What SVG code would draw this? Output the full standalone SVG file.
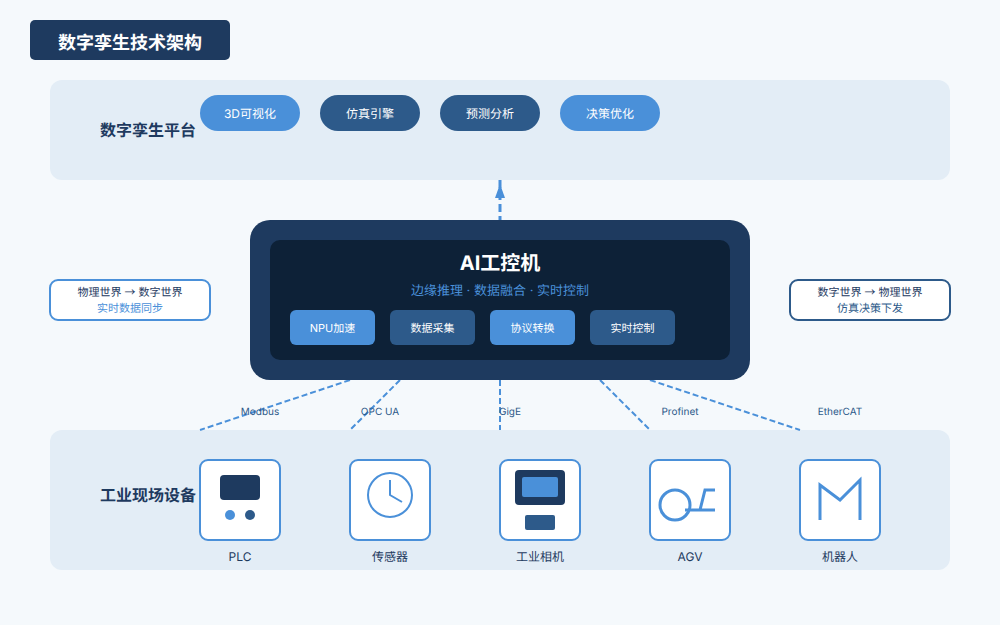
<svg xmlns="http://www.w3.org/2000/svg" width="1000" height="625" viewBox="0 0 1000 625">
<style>
text{font-family:Inter,"Noto Sans CJK SC",sans-serif;text-anchor:middle;text-rendering:geometricPrecision}
.ar{font-family:"Noto Sans CJK SC",sans-serif}
.panel{fill:#e3edf6}
.pill{font-size:12px;fill:#fff}
.chip{font-size:11px;fill:#fff}
.lt{fill:#4a90d9}.md{fill:#2d5a8a}.dk{fill:#1e3a5f}
.sec{font-size:16px;font-weight:700;fill:#1e3a5f}
.link{stroke:#4a90d9;stroke-width:2;stroke-dasharray:6 3;fill:none}
.up{stroke:#4a90d9;stroke-width:3;stroke-dasharray:8 4;fill:none}
.proto{font-size:10px;fill:#2d5a8a}
.dev{fill:#fff;stroke:#4a90d9;stroke-width:2}
.ico{fill:none;stroke:#4a90d9;stroke-width:2}
.ico3{fill:none;stroke:#4a90d9;stroke-width:3}
.name{font-size:12px;fill:#1e3a5f}
.note{fill:#fff;stroke-width:2}
.n1{font-size:11px;fill:#1e3a5f}
</style>
<rect width="1000" height="625" fill="#f5f9fc"/>
<g id="title"><rect x="30" y="20" width="200" height="40" rx="5" class="dk"/><text x="130" y="48.500" font-size="18" font-weight="700" fill="#fff">数字孪生技术架构</text></g>
<g id="platform"><rect x="50" y="80" width="900" height="100" rx="12" class="panel"/><text x="148" y="135.500" class="sec">数字孪生平台</text></g>
<g id="p1"><rect x="200" y="95" width="100" height="36" rx="18" class="lt"/><text x="250" y="118" class="pill">3D可视化</text></g>
<g id="p2"><rect x="320" y="95" width="100" height="36" rx="18" class="md"/><text x="370" y="118" class="pill">仿真引擎</text></g>
<g id="p3"><rect x="440" y="95" width="100" height="36" rx="18" class="md"/><text x="490" y="118" class="pill">预测分析</text></g>
<g id="p4"><rect x="560" y="95" width="100" height="36" rx="18" class="lt"/><text x="610" y="118" class="pill">决策优化</text></g>
<g id="field"><rect x="50" y="430" width="900" height="140" rx="12" class="panel"/><text x="148" y="500.500" class="sec">工业现场设备</text></g>
<g id="connectors">
<path class="up" d="M500 180V220"/>
<path d="M500 184L505 198H495Z" class="lt"/>
<path class="link" d="M350 380L200 430"/>
<path class="link" d="M400 380L350 430"/>
<path class="link" d="M500 380V430"/>
<path class="link" d="M600 380L650 430"/>
<path class="link" d="M650 380L800 430"/>
<text x="260" y="415" class="proto">Modbus</text>
<text x="380" y="415" class="proto">OPC UA</text>
<text x="510" y="415" class="proto">GigE</text>
<text x="680" y="415" class="proto">Profinet</text>
<text x="840" y="415" class="proto">EtherCAT</text>
</g>
<g id="ipc">
<rect x="250" y="220" width="500" height="160" rx="20" class="dk"/>
<rect x="270" y="240" width="460" height="120" rx="10" fill="#0d2137"/>
<text x="500" y="270" font-size="20" font-weight="700" fill="#fff">AI工控机</text>
<text x="500" y="295" font-size="13" fill="#4a90d9">边缘推理 · 数据融合 · 实时控制</text>
</g>
<g id="c1"><rect x="290" y="310" width="85" height="35" rx="6" class="lt"/><text x="332.500" y="332" class="chip">NPU加速</text></g>
<g id="c2"><rect x="390" y="310" width="85" height="35" rx="6" class="md"/><text x="432.500" y="332" class="chip">数据采集</text></g>
<g id="c3"><rect x="490" y="310" width="85" height="35" rx="6" class="lt"/><text x="532.500" y="332" class="chip">协议转换</text></g>
<g id="c4"><rect x="590" y="310" width="85" height="35" rx="6" class="md"/><text x="632.500" y="332" class="chip">实时控制</text></g>
<g id="noteL"><rect x="50" y="280" width="160" height="40" rx="8" class="note" stroke="#4a90d9"/><text x="130" y="296" class="n1">物理世界 <tspan class="ar">→</tspan> 数字世界</text><text x="130" y="312" font-size="11" fill="#4a90d9">实时数据同步</text></g>
<g id="noteR"><rect x="790" y="280" width="160" height="40" rx="8" class="note" stroke="#2d5a8a"/><text x="870" y="296" class="n1">数字世界 <tspan class="ar">→</tspan> 物理世界</text><text x="870" y="312" font-size="11" fill="#2d5a8a">仿真决策下发</text></g>
<g id="plc"><rect x="200" y="460" width="80" height="80" rx="8" class="dev"/><rect x="220" y="475" width="40" height="25" rx="4" class="dk"/><circle cx="230" cy="515" r="5" class="lt"/><circle cx="250" cy="515" r="5" class="md"/><text x="240" y="560.500" class="name">PLC</text></g>
<g id="sensor"><rect x="350" y="460" width="80" height="80" rx="8" class="dev"/><circle cx="390" cy="495" r="22" class="ico"/><path class="ico" d="M390 480V495L402 502"/><text x="390" y="560.500" class="name">传感器</text></g>
<g id="camera"><rect x="500" y="460" width="80" height="80" rx="8" class="dev"/><rect x="515" y="470" width="50" height="35" rx="4" class="dk"/><rect x="522" y="477" width="36" height="20" rx="2" class="lt"/><rect x="525" y="515" width="30" height="15" rx="2" class="md"/><text x="540" y="560.500" class="name">工业相机</text></g>
<g id="agv"><rect x="650" y="460" width="80" height="80" rx="8" class="dev"/><circle cx="675" cy="505" r="15" class="ico3"/><path class="ico3" d="M685 510H715M700 510L705 490H715"/><text x="690" y="560.500" class="name">AGV</text></g>
<g id="robot"><rect x="800" y="460" width="80" height="80" rx="8" class="dev"/><path class="ico3" d="M820 520V485L840 500L860 480V520"/><text x="840" y="560.500" class="name">机器人</text></g>
</svg>
